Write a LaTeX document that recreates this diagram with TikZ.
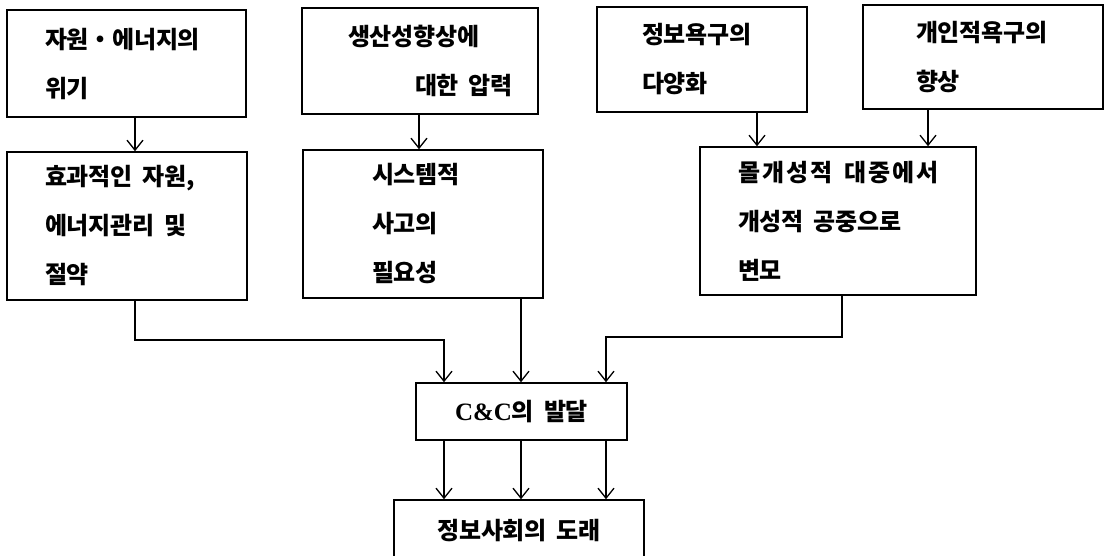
\documentclass[tikz,border=0pt]{standalone}
\usepackage{fontspec}
\usetikzlibrary{arrows.meta}
\newfontfamily\kr{Noto Sans CJK KR}[LetterSpace=-1]
\newfontfamily\rom{Liberation Serif}
\newcommand{\ws}{\hspace{10pt}}
\tikzset{
  box/.style={draw, line width=1.6pt, rectangle, inner sep=0pt, align=left,
    font=\kr\bfseries\fontsize{24pt}{49pt}\selectfont},
  cbox/.style={draw, line width=1.6pt, rectangle, inner sep=0pt, align=center,
    font=\kr\bfseries\fontsize{24pt}{49pt}\selectfont},
  arr/.style={line width=1.3pt, -{Straight Barb[length=10pt,width=16pt,line width=1.3pt]}},
  ln/.style={line width=1.3pt}
}
\begin{document}
\begin{tikzpicture}[x=1pt,y=-1pt]
\useasboundingbox (0,0) rectangle (1106,556);
% top row
\node[box, minimum width=239, minimum height=107, text width=163pt] (A) at (126.5,63.5)
  {\mbox{자원・에너지의}\\위기};
\node[box, minimum width=236, minimum height=106, text width=144pt] (B) at (420,61)
  {\mbox{생산성향상에}\\\mbox{\hspace*{67pt}대한\ws 압력}};
\node[box, minimum width=210, minimum height=105, text width=120pt] (E) at (702,59.5)
  {\mbox{정보욕구의}\\다양화};
\node[box, minimum width=240, minimum height=104, text width=134pt] (F) at (983,57)
  {\mbox{개인적욕구의}\\향상};
% middle row
\node[box, minimum width=240, minimum height=148, text width=164pt] (C) at (127,226)
  {\mbox{효과적인\ws 자원,}\\\mbox{에너지관리\ws 및}\\절약};
\node[box, minimum width=240, minimum height=148, text width=102pt] (D) at (423,224)
  {\mbox{시스템적}\\사고의\\필요성};
\node[box, minimum width=276, minimum height=148, text width=200pt] (G) at (838,221)
  {\mbox{\addfontfeature{LetterSpace=8}몰개성적\hspace{12pt}대중에서}\\\mbox{개성적\ws 공중으로}\\변모};
% bottom
\node[cbox, minimum width=211, minimum height=57] (CC) at (521.5,411.5)
  {{\rom\fontsize{25pt}{25pt}\selectfont C\&C}의\ws 발달};
\node[cbox, minimum width=250, minimum height=62] (IS) at (519,531)
  {정보사회의\ws 도래};
% helper coordinates
\coordinate (xa) at (135,0);
\coordinate (xb) at (419,0);
\coordinate (xe) at (757,0);
\coordinate (xf) at (928,0);
\coordinate (xd) at (521,0);
\coordinate (xg) at (842,0);
\coordinate (x1) at (444,0);
\coordinate (x3) at (606,0);
\coordinate (yc) at (0,340);
\coordinate (yg) at (0,337);
% connectors
\draw[arr] (A.south -| xa) -- (C.north -| xa);
\draw[arr] (B.south -| xb) -- (D.north -| xb);
\draw[arr] (E.south -| xe) -- (G.north -| xe);
\draw[arr] (F.south -| xf) -- (G.north -| xf);
\draw[arr] (C.south -| xa) |- (x1 |- yc) -- (CC.north -| x1);
\draw[arr] (D.south -| xd) -- (CC.north -| xd);
\draw[arr] (G.south -| xg) |- (x3 |- yg) -- (CC.north -| x3);
\draw[arr] (CC.south -| x1) -- (IS.north -| x1);
\draw[arr] (CC.south -| xd) -- (IS.north -| xd);
\draw[arr] (CC.south -| x3) -- (IS.north -| x3);
\end{tikzpicture}
\end{document}
